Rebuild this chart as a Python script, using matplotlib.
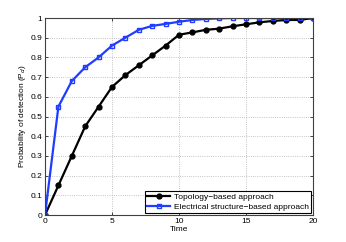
import matplotlib
matplotlib.use("Agg")
from matplotlib import pyplot as plt

# time steps
time = list(range(0, 21))
# probability of detection for each approach
topology = [0, 0.15, 0.30, 0.45, 0.55, 0.65, 0.71, 0.76, 0.81, 0.86, 0.915,
            0.927, 0.94, 0.946, 0.958, 0.968, 0.978, 0.985, 0.99, 0.99, 1.0]
electrical = [0, 0.55, 0.68, 0.75, 0.80, 0.86, 0.90, 0.94, 0.96, 0.97, 0.981,
              0.99, 0.995, 0.998, 1.0, 1.0, 1.0, 1.0, 1.0, 1.0, 1.0]

plt.rcParams['font.family'] = ['Liberation Sans', 'DejaVu Sans']
fs = 6

fig = plt.figure(figsize=(3.46, 2.42), dpi=100)
ax = fig.add_axes([45/346, 1 - 215/242, (313-45)/346, (215-18)/242])

ax.plot(time, topology, color='black', lw=1.6, marker='o', ms=3.5,
        label='Topology\u2212based approach')
ax.plot(time, electrical, color='#1f3cff', lw=1.6, marker='s', ms=3.5,
        mfc='none', mew=1.0, label='Electrical structure\u2212based approach')

ax.set_xlim(0, 20)
ax.set_ylim(0, 1)
ax.set_xticks([0, 5, 10, 15, 20])
ax.set_yticks([i/10 for i in range(11)])
ax.set_yticklabels(['0', '0.1', '0.2', '0.3', '0.4', '0.5', '0.6', '0.7',
                    '0.8', '0.9', '1'])
ax.grid(True, color='#b0b0b0', ls=':', lw=0.6)
ax.tick_params(labelsize=fs, direction='in', length=2.5, width=0.5,
               top=True, right=True, pad=2)
for s in ax.spines.values():
    s.set_linewidth(0.8)
    s.set_color('#404040')

ax.set_xlabel('Time', fontsize=fs, labelpad=1)
ax.set_ylabel('Probability of detection (P$_d$)', fontsize=fs, labelpad=2)

leg = ax.legend(loc='lower right', fontsize=fs, fancybox=False, framealpha=1,
                edgecolor='black', borderpad=0.3, labelspacing=0.2,
                handlelength=2.8, handletextpad=0.4, borderaxespad=0.2)
leg.get_frame().set_linewidth(0.8)

fig.savefig('out.png', dpi=100)
